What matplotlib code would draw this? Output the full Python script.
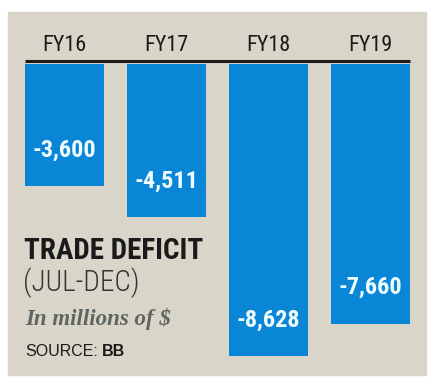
import matplotlib
matplotlib.use("Agg")
import matplotlib.pyplot as plt
from matplotlib.patches import Rectangle
from matplotlib import font_manager

years = ["FY16", "FY17", "FY18", "FY19"]
deficit = [-3600, -4511, -8628, -7660]
labels = ["-3,600", "-4,511", "-8,628", "-7,660"]

W, H = 439, 388
fig = plt.figure(figsize=(W / 100, H / 100), dpi=100)
fig.patch.set_facecolor("white")

# pick a condensed face if there is one
names = {f.name for f in font_manager.fontManager.ttflist}
narrow = "Liberation Sans"
for cand in ["Roboto Condensed", "Liberation Sans Narrow", "Open Sans Condensed",
             "DejaVu Sans Condensed"]:
    if cand in names:
        narrow = cand
        break

# beige panel
fig.patches.append(Rectangle((8 / W, 1 - 375 / H), 418 / W, 363 / H,
                             transform=fig.transFigure, color="#d9d5c9", zorder=0))

ax = fig.add_axes([13.5 / W, 13 / H, 408 / W, 363 / H])
ax.set_zorder(2)
ax.patch.set_alpha(0)
ax.set_xlim(-0.5, 3.5)
ax.set_ylim(-9204, 1504)
ax.axis("off")

x = range(len(years))
ax.bar(x, deficit, width=0.775, bottom=-30, color="#0a86d6", zorder=2)
ax.plot([-0.3875, 3.3875], [60, 60], color="#1a1a1a", lw=2.2, solid_capstyle="butt")

for i in x:
    ax.text(i, 520, years[i], ha="center", va="center", fontsize=16,
            family=narrow, color="#1a1a1a")
    ax.text(i, deficit[i] + 1030, labels[i], ha="center", va="center", fontsize=17.5,
            family=narrow, weight="bold", color="#eefcff", zorder=3)

def ftext(px, py, s, **kw):
    fig.text(px / W, 1 - py / H, s, **kw)

ftext(24, 251, "TRADE DEFICIT", fontsize=21, weight="bold", family=narrow,
      color="#1a1a1a", va="center")
ftext(23, 283, "(JUL-DEC)", fontsize=21, weight="light", family=narrow,
      color="#333333", va="center")
ftext(25, 319, "In millions of $", fontsize=16.5, style="italic", weight="bold",
      family="Liberation Serif", color="#5f6661", va="center")
ftext(25, 351, "SOURCE:", fontsize=11.5, family="Liberation Sans", color="#1a1a1a",
      va="center")
ftext(102, 351, "BB", fontsize=11.5, weight="bold", family="Liberation Sans",
      color="#1a1a1a", va="center")

fig.savefig("out.png", dpi=100)
